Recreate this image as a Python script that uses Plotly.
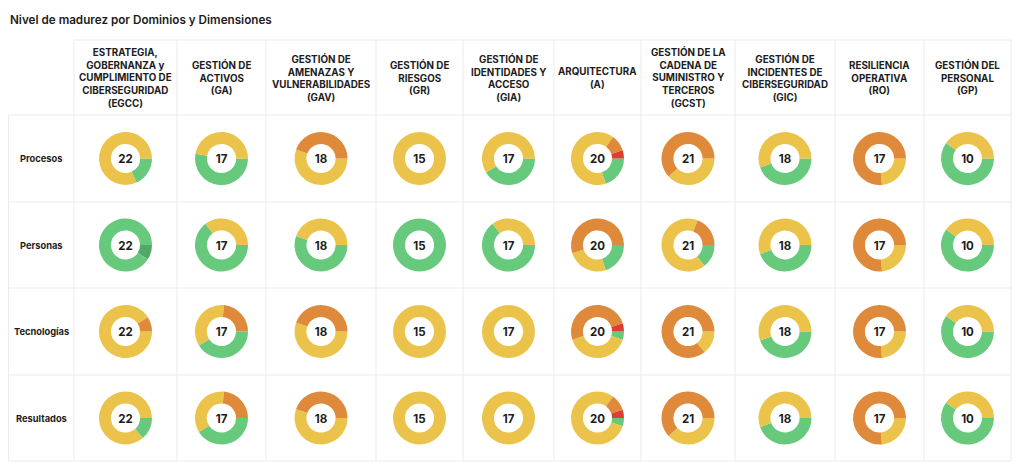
import plotly.graph_objects as go

# ----------------------------
# data

dominios = ['EGCC', 'GA', 'GAV', 'GR', 'GIA', 'A', 'GCST', 'GIC', 'RO', 'GP']

dominio_titulos = [
    'ESTRATEGIA,<br>GOBERNANZA y<br>CUMPLIMIENTO DE<br>CIBERSEGURIDAD',
    'GESTIÓN DE<br>ACTIVOS',
    'GESTIÓN DE<br>AMENAZAS Y<br>VULNERABILIDADES',
    'GESTIÓN DE<br>RIESGOS',
    'GESTIÓN DE<br>IDENTIDADES Y<br>ACCESO',
    'ARQUITECTURA',
    'GESTIÓN DE LA<br>CADENA DE<br>SUMINISTRO Y<br>TERCEROS',
    'GESTIÓN DE<br>INCIDENTES DE<br>CIBERSEGURIDAD',
    'RESILIENCIA<br>OPERATIVA',
    'GESTIÓN DEL<br>PERSONAL',
]

dimensiones = ['Procesos', 'Personas', 'Tecnologías', 'Resultados']

# counts per maturity level, one row per dimension, one column per domain
nivel_5 = [
    [0, 0, 0, 0, 0, 0, 0, 0, 0, 0],
    [2, 0, 0, 0, 0, 0, 0, 0, 0, 0],
    [0, 0, 0, 0, 0, 0, 0, 0, 0, 0],
    [0, 0, 0, 0, 0, 0, 0, 0, 0, 0],
]
nivel_4 = [
    [4, 9, 0, 0, 7, 4, 0, 8, 0, 6],
    [20, 11, 10, 15, 11, 4, 3, 8, 0, 6],
    [0, 7, 0, 0, 0, 1, 0, 8, 0, 6],
    [3, 7, 0, 0, 0, 1, 0, 8, 0, 6],
]
nivel_3 = [
    [18, 8, 10, 15, 10, 13, 8, 10, 4, 4],
    [0, 6, 8, 0, 6, 5, 14, 10, 4, 4],
    [20, 6, 10, 15, 17, 8, 3, 10, 4, 4],
    [19, 6, 10, 15, 17, 16, 8, 10, 4, 4],
]
nivel_2 = [
    [0, 0, 8, 0, 0, 2, 13, 0, 13, 0],
    [0, 0, 0, 0, 0, 11, 4, 0, 13, 0],
    [2, 4, 8, 0, 0, 10, 18, 0, 13, 0],
    [0, 4, 8, 0, 0, 2, 13, 0, 13, 0],
]
nivel_1 = [
    [0, 0, 0, 0, 0, 1, 0, 0, 0, 0],
    [0, 0, 0, 0, 0, 0, 0, 0, 0, 0],
    [0, 0, 0, 0, 0, 1, 0, 0, 0, 0],
    [0, 0, 0, 0, 0, 1, 0, 0, 0, 0],
]

nivel_labels = ['Nivel 5', 'Nivel 4', 'Nivel 3', 'Nivel 2', 'Nivel 1']
nivel_colores = ['#52a866', '#66c97b', '#ecc34a', '#df8a3b', '#dc3d35']

# ----------------------------
# layout in page pixels (the page body has an 8px margin)

OFF = 8
W, H = 1024 - 2 * OFF, 473 - 2 * OFF
col_edges = [74, 177, 266, 376, 463, 554, 641, 735, 835, 924, 1011]
row_edges = [115, 202, 288, 375, 461]
table_left = 8.5
header_top = 40
radio = 26.5
grid_col = '#ebebeb'
text_col = '#1c1c1c'


def px(x):
    return (x - OFF) / W


def py(y):
    return 1 - (y - OFF) / H


fig = go.Figure()

for i, dim in enumerate(dimensiones):
    for j, dom in enumerate(dominios):
        cx = (col_edges[j] + col_edges[j + 1]) / 2
        cy = (row_edges[i] + row_edges[i + 1]) / 2
        vals = [nivel_5[i][j], nivel_4[i][j], nivel_3[i][j], nivel_2[i][j], nivel_1[i][j]]
        total = sum(vals)
        fig.add_trace(go.Pie(
            labels=nivel_labels,
            values=vals,
            marker=dict(colors=nivel_colores, line=dict(width=0)),
            hole=0.55,
            sort=False,
            direction='clockwise',
            rotation=90,
            textinfo='none',
            showlegend=False,
            name=dim + ' / ' + dom,
            domain=dict(x=[px(cx - radio), px(cx + radio)], y=[py(cy + radio), py(cy - radio)]),
            title=dict(text='<b>' + str(total) + '</b>', position='middle center',
                       font=dict(family='Inter', size=11.5, color=text_col)),
        ))

shapes = []
# horizontal lines
shapes.append(dict(type='line', xref='paper', yref='paper', x0=px(col_edges[0]), x1=px(col_edges[-1]),
                   y0=py(header_top), y1=py(header_top), line=dict(color=grid_col, width=1)))
for y in row_edges:
    shapes.append(dict(type='line', xref='paper', yref='paper', x0=px(table_left), x1=px(col_edges[-1]),
                       y0=py(y), y1=py(y), line=dict(color=grid_col, width=1)))
# vertical lines
shapes.append(dict(type='line', xref='paper', yref='paper', x0=px(table_left), x1=px(table_left),
                   y0=py(row_edges[0]), y1=py(row_edges[-1]), line=dict(color=grid_col, width=1)))
for x in col_edges:
    shapes.append(dict(type='line', xref='paper', yref='paper', x0=px(x), x1=px(x),
                       y0=py(header_top), y1=py(row_edges[-1]), line=dict(color=grid_col, width=1)))

annotations = []
annotations.append(dict(text='Nivel de madurez por Dominios y Dimensiones', x=px(8), y=py(20),
                        xref='paper', yref='paper', xanchor='left', yanchor='middle', showarrow=False,
                        font=dict(family='Inter', size=11.7, color=text_col, weight=600)))
for j, dom in enumerate(dominios):
    cx = (col_edges[j] + col_edges[j + 1]) / 2
    annotations.append(dict(text='<b>' + dominio_titulos[j] + '<br>(' + dom + ')</b>',
                            x=px(cx), y=py((header_top + row_edges[0]) / 2),
                            xref='paper', yref='paper', xanchor='center', yanchor='middle',
                            align='center', showarrow=False,
                            font=dict(family='Inter', size=9.8, color=text_col)))
for i, dim in enumerate(dimensiones):
    cy = (row_edges[i] + row_edges[i + 1]) / 2
    annotations.append(dict(text='<b>' + dim + '</b>', x=px((table_left + col_edges[0]) / 2), y=py(cy),
                            xref='paper', yref='paper', xanchor='center', yanchor='middle',
                            showarrow=False, font=dict(family='Inter', size=9.3, color=text_col)))

fig.update_layout(
    width=W, height=H,
    margin=dict(l=0, r=0, t=0, b=0),
    paper_bgcolor='white',
    plot_bgcolor='white',
    shapes=shapes,
    annotations=annotations,
)

fig.write_html("out.html")
